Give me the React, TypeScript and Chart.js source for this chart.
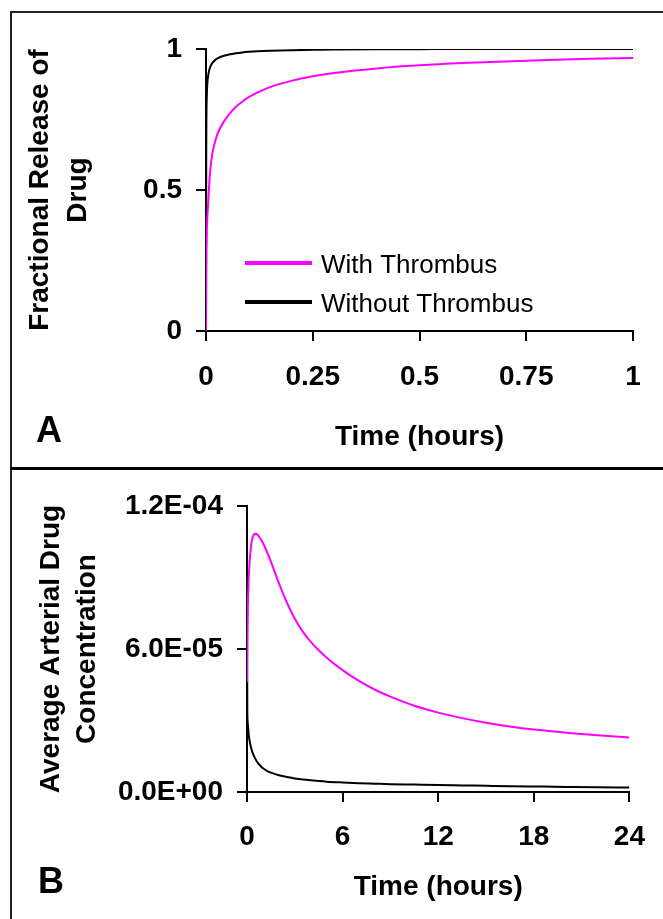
import React, { useEffect, useRef } from "react";
import { Chart, registerables } from "chart.js";

Chart.register(...registerables);

const FONT = "'Liberation Sans', Arial, Helvetica, sans-serif";

// ---------- Panel A: fractional release (0-1 h) ----------
const timeA = [0, 0.0005, 0.001, 0.002, 0.003, 0.005, 0.0075, 0.01, 0.015, 0.02, 0.025, 0.03, 0.04, 0.05, 0.06, 0.07, 0.085, 0.1, 0.12, 0.15, 0.2, 0.25, 0.3, 0.4, 0.5, 0.6, 0.7, 0.8, 0.9, 1.0];
const withThrombusA = [0, 0.2, 0.28, 0.36, 0.4, 0.45, 0.52, 0.57, 0.63, 0.665, 0.69, 0.71, 0.738, 0.76, 0.779, 0.795, 0.813, 0.829, 0.845, 0.865, 0.887, 0.903, 0.915, 0.931, 0.942, 0.95, 0.956, 0.961, 0.965, 0.968];
const withoutThrombusA = [0, 0.62, 0.76, 0.84, 0.875, 0.905, 0.925, 0.937, 0.951, 0.959, 0.965, 0.969, 0.975, 0.979, 0.982, 0.985, 0.988, 0.99, 0.992, 0.994, 0.996, 0.997, 0.998, 0.999, 0.9995, 1, 1, 1, 1, 1];
const xTicksA = [0, 0.25, 0.5, 0.75, 1];
const xTickLabelsA = ["0", "0.25", "0.5", "0.75", "1"];
const yTicksA = [0, 0.5, 1];
const yTickLabelsA = ["0", "0.5", "1"];

// ---------- Panel B: average arterial concentration (0-24 h) ----------
const timeB = [0, 0.01, 0.02, 0.05, 0.1, 0.15, 0.25, 0.35, 0.5, 0.65, 0.85, 1.0, 1.25, 1.5, 2, 2.5, 3, 3.5, 4, 4.5, 5, 6, 7, 8, 9, 10.5, 12, 13.5, 15, 16.5, 18, 20, 22, 24];
const withThrombusB = [4.6e-5, 5.5e-5, 6.2e-5, 7.6e-5, 8.85e-5, 9.5e-5, 1.03e-4, 1.068e-4, 1.084e-4, 1.08e-4, 1.062e-4, 1.045e-4, 1.008e-4, 9.67e-5, 8.76e-5, 7.95e-5, 7.27e-5, 6.73e-5, 6.3e-5, 5.945e-5, 5.635e-5, 5.115e-5, 4.67e-5, 4.3e-5, 4.0e-5, 3.62e-5, 3.33e-5, 3.1e-5, 2.91e-5, 2.75e-5, 2.62e-5, 2.49e-5, 2.38e-5, 2.29e-5];
const withoutThrombusB = [9.9e-5, 6.0e-5, 3.4e-5, 2.85e-5, 2.45e-5, 2.2e-5, 1.88e-5, 1.65e-5, 1.42e-5, 1.25e-5, 1.09e-5, 1.0e-5, 0.89e-5, 0.81e-5, 0.7e-5, 0.625e-5, 0.57e-5, 0.525e-5, 0.49e-5, 0.46e-5, 0.435e-5, 0.4e-5, 0.37e-5, 0.35e-5, 0.33e-5, 0.31e-5, 0.29e-5, 0.275e-5, 0.26e-5, 0.245e-5, 0.232e-5, 0.215e-5, 0.2e-5, 0.19e-5];
const xTicksB = [0, 6, 12, 18, 24];
const xTickLabelsB = ["0", "6", "12", "18", "24"];
const yTicksB = [0, 6e-5, 1.2e-4];
const yTickLabelsB = ["0.0E+00", "6.0E-05", "1.2E-04"];

const seriesNames = ["With Thrombus", "Without Thrombus"];
const seriesColors = ["#ff00ff", "#000000"];

const decorPlugin = {
  id: "decor",
  afterDraw(chart: any, _args: any, opts: any) {
    const ctx = chart.ctx;
    ctx.save();
    ctx.fillStyle = "#000";
    ctx.textAlign = "left";
    ctx.textBaseline = "alphabetic";
    ctx.font = `bold 36px ${FONT}`;
    ctx.fillText(opts.letter, opts.letterX, opts.letterY);
    if (opts.legend) {
      const ca = chart.chartArea;
      chart.data.datasets.forEach((ds: any, i: number) => {
        const y = ca.top + 214 + i * 39;
        ctx.strokeStyle = ds.borderColor;
        ctx.lineWidth = 4;
        ctx.beginPath();
        ctx.moveTo(ca.left + 39, y);
        ctx.lineTo(ca.left + 106, y);
        ctx.stroke();
        ctx.font = `26px ${FONT}`;
        ctx.fillStyle = "#000";
        ctx.fillText(ds.label, ca.left + 115, y + 10);
      });
    }
    ctx.restore();
  },
};

function makeConfig(p: any) {
  const tickFont = { family: FONT, size: 28, weight: "bold" as const };
  return {
    type: "line" as const,
    data: {
      datasets: p.series.map((vals: number[], i: number) => ({
        label: seriesNames[i],
        data: p.time.map((t: number, j: number) => ({ x: t, y: vals[j] })),
        borderColor: seriesColors[i],
        backgroundColor: seriesColors[i],
        borderWidth: 2,
        pointRadius: 0,
        fill: false,
        cubicInterpolationMode: "monotone" as const,
      })),
    },
    options: {
      responsive: false,
      animation: false as const,
      devicePixelRatio: 1,
      layout: { padding: { left: 0, top: p.areaTop, right: p.padRight, bottom: 0 } },
      plugins: {
        legend: { display: false },
        tooltip: { enabled: false },
        decor: { letter: p.letter, letterX: p.letterX, letterY: p.letterY, legend: p.legend },
      },
      scales: {
        x: {
          type: "linear" as const,
          min: 0,
          max: p.xTicks[p.xTicks.length - 1],
          afterFit: (s: any) => { s.height = p.xHeight; },
          afterBuildTicks: (s: any) => { s.ticks = p.xTicks.map((v: number) => ({ value: v })); },
          border: { display: true, color: "#000", width: 2 },
          grid: { display: true, drawOnChartArea: false, drawTicks: true, tickLength: 10, lineWidth: 2, color: "#000" },
          ticks: {
            color: "#000",
            font: tickFont,
            padding: p.xTickPad,
            maxRotation: 0,
            autoSkip: false,
            callback: (_v: any, i: number) => p.xLabels[i],
          },
          title: {
            display: true,
            text: "Time (hours)",
            color: "#000",
            font: { family: FONT, size: 28, weight: "bold" as const },
            padding: { top: 0, bottom: p.xTitlePad },
          },
        },
        y: {
          type: "linear" as const,
          min: 0,
          max: p.yTicks[p.yTicks.length - 1],
          afterFit: (s: any) => { s.width = p.yWidth; },
          afterBuildTicks: (s: any) => { s.ticks = p.yTicks.map((v: number) => ({ value: v })); },
          border: { display: true, color: "#000", width: 2 },
          grid: { display: true, drawOnChartArea: false, drawTicks: true, tickLength: 10, lineWidth: 2, color: "#000" },
          ticks: {
            color: "#000",
            font: tickFont,
            padding: 14,
            autoSkip: false,
            callback: (_v: any, i: number) => p.yLabels[i],
          },
          title: {
            display: true,
            text: p.yTitle,
            color: "#000",
            font: { family: FONT, size: 28, weight: "bold" as const, lineHeight: p.yTitleLH },
            padding: { top: p.yTitlePad, bottom: 0 },
          },
        },
      },
    },
    plugins: [decorPlugin],
  };
}

function PanelChart(props: { cfg: any; width: number; height: number; top: number }) {
  const ref = useRef<HTMLCanvasElement | null>(null);
  useEffect(() => {
    if (!ref.current) return;
    const chart = new Chart(ref.current, makeConfig(props.cfg) as any);
    return () => chart.destroy();
  }, []);
  return (
    <canvas
      ref={ref}
      width={props.width}
      height={props.height}
      style={{ position: "absolute", left: 0, top: props.top, width: props.width, height: props.height, display: "block" }}
    />
  );
}

export default function App() {
  const cfgA = {
    time: timeA,
    series: [withThrombusA, withoutThrombusA],
    xTicks: xTicksA,
    xLabels: xTickLabelsA,
    yTicks: yTicksA,
    yLabels: yTickLabelsA,
    areaTop: 49,
    padRight: 30,
    yWidth: 206,
    xHeight: 466 - 331,
    xTickPad: 19,
    xTitlePad: 12,
    yTitle: ["Fractional Release of", "Drug"],
    yTitleLH: "38px",
    yTitlePad: 21.5,
    letter: "A",
    letterX: 36,
    letterY: 442,
    legend: true,
  };
  const cfgB = {
    time: timeB,
    series: [withThrombusB, withoutThrombusB],
    xTicks: xTicksB,
    xLabels: xTickLabelsB,
    yTicks: yTicksB,
    yLabels: yTickLabelsB,
    areaTop: 36,
    padRight: 20,
    yWidth: 247,
    xHeight: 449 - 322,
    xTickPad: 18,
    xTitlePad: 15,
    yTitle: ["Average Arterial Drug", "Concentration"],
    yTitleLH: "36px",
    yTitlePad: 33,
    letter: "B",
    letterX: 38,
    letterY: 423,
    legend: false,
  };
  return (
    <div style={{ position: "absolute", left: 0, top: 0, width: 663, height: 919, background: "#fff", overflow: "hidden" }}>
      <PanelChart cfg={cfgA} width={663} height={466} top={0} />
      <PanelChart cfg={cfgB} width={663} height={449} top={470} />
      <div style={{ position: "absolute", left: 10, top: 11, width: 660, height: 920, borderTop: "2px solid #222", borderLeft: "2px solid #222", boxSizing: "border-box" }} />
      <div style={{ position: "absolute", left: 10, top: 467, width: 653, height: 3, background: "#000" }} />
    </div>
  );
}
